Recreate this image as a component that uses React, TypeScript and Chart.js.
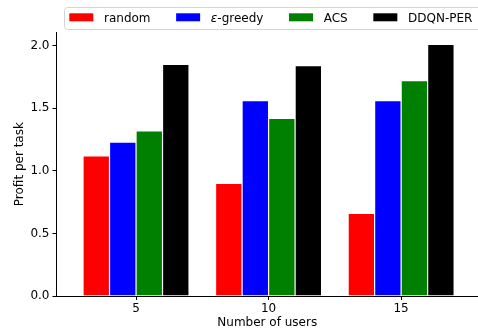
import React, { useEffect, useRef } from "react";
import { Chart, registerables } from "chart.js";

Chart.register(...registerables);

const users = [5, 10, 15];
const randomVals = [1.12, 0.9, 0.66];
const epsGreedyVals = [1.23, 1.56, 1.56];
const acsVals = [1.32, 1.42, 1.72];
const ddqnPerVals = [1.85, 1.84, 2.01];
const yTicks = [0, 0.5, 1.0, 1.5, 2.0];
const seriesNames = ["random", "ε-greedy", "ACS", "DDQN-PER"];
const seriesColors = ["#ff0000", "#0000ff", "#008000", "#000000"];
const seriesValues = [randomVals, epsGreedyVals, acsVals, ddqnPerVals];

const FONT = "'DejaVu Sans', sans-serif";

const legendPlugin = {
  id: "mplLegend",
  afterDraw(chart: any) {
    const ctx = chart.ctx as CanvasRenderingContext2D;
    ctx.save();
    const left = 64.5;
    const top = 7.5;
    const h = 22;
    const r = 3;
    const right = 500;
    ctx.beginPath();
    ctx.moveTo(left + r, top);
    ctx.lineTo(right, top);
    ctx.lineTo(right, top + h);
    ctx.lineTo(left + r, top + h);
    ctx.arcTo(left, top + h, left, top + h - r, r);
    ctx.lineTo(left, top + r);
    ctx.arcTo(left, top, left + r, top, r);
    ctx.closePath();
    ctx.fillStyle = "rgba(255,255,255,0.8)";
    ctx.fill();
    ctx.strokeStyle = "#d4d4d4";
    ctx.lineWidth = 1;
    ctx.stroke();

    let x = 69.3;
    const cy = 18.5;
    ctx.textBaseline = "middle";
    ctx.textAlign = "left";
    seriesNames.forEach((name, i) => {
      ctx.fillStyle = seriesColors[i];
      ctx.fillRect(x, 13.3, 24, 8);
      x += 24 + 10.7;
      ctx.fillStyle = "#000";
      let w = 0;
      if (name.startsWith("ε")) {
        ctx.font = `italic 12px ${FONT}`;
        ctx.fillText("ε", x, cy);
        const w1 = ctx.measureText("ε").width;
        ctx.font = `12px ${FONT}`;
        ctx.fillText(name.slice(1), x + w1, cy);
        w = w1 + ctx.measureText(name.slice(1)).width;
      } else {
        ctx.font = `12px ${FONT}`;
        ctx.fillText(name, x, cy);
        w = ctx.measureText(name).width;
      }
      x += w + 25.6;
    });
    ctx.restore();
  },
};

export default function App() {
  const ref = useRef<HTMLCanvasElement | null>(null);
  useEffect(() => {
    if (!ref.current) return;
    const chart = new Chart(ref.current, {
      type: "bar",
      data: {
        datasets: seriesNames.map((name, i) => ({
          label: name,
          data: users.map((u, j) => ({ x: u, y: seriesValues[i][j] })),
          backgroundColor: seriesColors[i],
          borderColor: "rgba(255,255,255,0.6)",
          borderWidth: 0.6,
          barPercentage: 1,
          categoryPercentage: 0.8,
        })),
      },
      options: {
        animation: false,
        responsive: false,
        devicePixelRatio: 1,
        layout: { padding: { top: 32.3, right: 0, bottom: 0, left: 0 } },
        plugins: {
          legend: { display: false },
          tooltip: { enabled: false },
        },
        scales: {
          x: {
            type: "linear",
            min: 2,
            max: 17.9,
            offset: false,
            afterBuildTicks: (s: any) => {
              s.ticks = users.map((v) => ({ value: v }));
            },
            afterFit: (s: any) => {
              s.height = 32;
            },
            grid: {
              offset: false,
              drawOnChartArea: false,
              drawTicks: true,
              tickLength: 4,
              color: "#000",
            },
            border: { display: true, color: "#000", width: 1 },
            ticks: {
              color: "#000",
              padding: 2,
              font: { family: FONT, size: 12 },
              callback: (v: any) => String(v),
            },
            title: {
              display: true,
              text: "Number of users",
              color: "#000",
              font: { family: FONT, size: 12 },
              padding: { top: 0, bottom: -2 },
            },
          },
          y: {
            type: "linear",
            min: 0,
            max: 2.107,
            afterBuildTicks: (s: any) => {
              s.ticks = yTicks.map((v) => ({ value: v }));
            },
            afterFit: (s: any) => {
              s.width = 56.5;
            },
            grid: {
              drawOnChartArea: false,
              drawTicks: true,
              tickLength: 4,
              color: "#000",
            },
            border: { display: true, color: "#000", width: 1 },
            ticks: {
              color: "#000",
              padding: 3,
              font: { family: FONT, size: 12 },
              callback: (v: any) => Number(v).toFixed(1),
            },
            title: {
              display: true,
              text: "Profit per task",
              color: "#000",
              font: { family: FONT, size: 12 },
              padding: { top: 13, bottom: 0 },
            },
          },
        },
      },
      plugins: [legendPlugin],
    });
    return () => chart.destroy();
  }, []);
  return (
    <div style={{ position: "absolute", left: 0, top: 0, width: 478, height: 328 }}>
      <canvas ref={ref} width={478} height={328} style={{ display: "block" }} />
    </div>
  );
}
